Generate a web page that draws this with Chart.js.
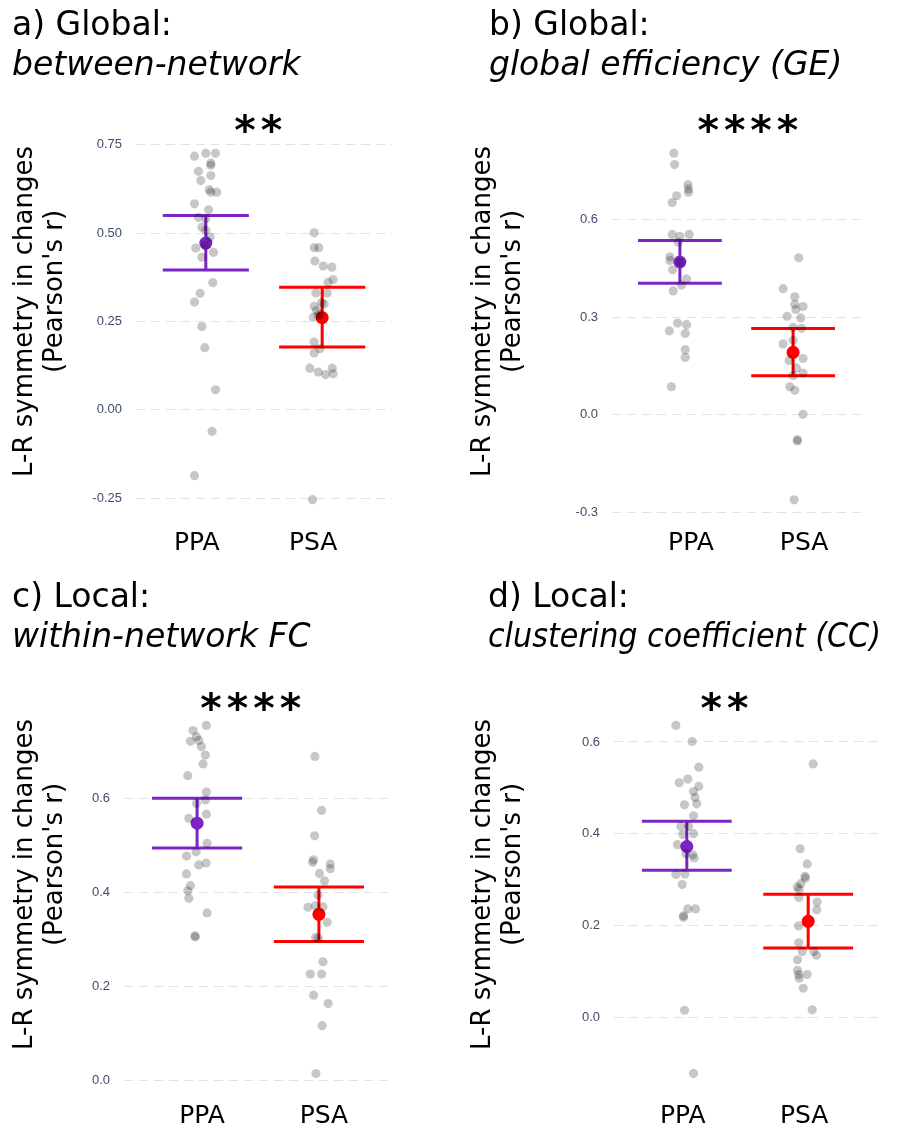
<!DOCTYPE html>
<html>
<head>
<meta charset="utf-8">
<script src="https://cdn.jsdelivr.net/npm/chart.js@4.4.1/dist/chart.umd.min.js"></script>
<style>
  html, body { margin: 0; padding: 0; background: #fff; }
  #wrap { position: relative; width: 922px; height: 1127px; }
  canvas { position: absolute; }
</style>
</head>
<body>
<div id="wrap">
  <canvas id="panelA" width="461" height="563" style="left:0;top:0"></canvas>
  <canvas id="panelB" width="461" height="563" style="left:461px;top:0"></canvas>
  <canvas id="panelC" width="461" height="564" style="left:0;top:563px"></canvas>
  <canvas id="panelD" width="461" height="564" style="left:461px;top:563px"></canvas>
</div>
<script>
const groups = ['PPA', 'PSA'];

// a) between-network
const aPpa = [0.718,0.726,0.726,0.698,0.692,0.675,0.663,0.649,0.623,0.616,0.616,0.583,0.566,0.545,0.541,0.517,0.508,0.489,0.458,0.465,0.446,0.432,0.360,0.330,0.305,0.236,0.176,0.057,-0.061,-0.186];
const aPpaJit = [-0.097,0,0.083,0.043,0.043,-0.063,0.043,-0.043,0.029,0.094,0.043,-0.097,0.023,-0.063,0,-0.034,0,0.037,-0.086,-0.006,0.066,-0.034,0.060,-0.049,-0.097,-0.034,-0.009,0.083,0.054,-0.097];
const aPsa = [0.501,0.459,0.459,0.421,0.407,0.404,0.369,0.361,0.331,0.331,0.303,0.293,0.281,0.272,0.262,0.267,0.300,0.192,0.173,0.161,0.118,0.107,0.100,0.118,0.102,-0.254];
const aPsaJit = [-0.069,-0.069,-0.029,-0.063,0.009,0.083,0.094,0.051,-0.054,0.043,-0.006,-0.069,-0.049,-0.020,-0.077,-0.034,0.017,-0.069,-0.020,-0.069,-0.106,-0.034,0.029,0.086,0.094,-0.083];
const aMean = [0.472, 0.261];
const aLo = [0.396, 0.178];
const aHi = [0.550, 0.347];
const aTicks = [-0.25, 0, 0.25, 0.5, 0.75];
const aTickLabels = ['-0.25', '0.00', '0.25', '0.50', '0.75'];

// b) global efficiency
const bPpa = [0.805,0.770,0.708,0.695,0.685,0.674,0.653,0.555,0.549,0.555,0.531,0.486,0.475,0.446,0.470,0.418,0.399,0.381,0.282,0.258,0.277,0.250,0.200,0.176,0.086];
const bPpaJit = [-0.053,-0.047,0.071,0.076,0.076,-0.029,-0.068,-0.068,0,0.082,-0.015,-0.088,-0.088,-0.065,0,0.059,0.015,-0.059,-0.021,-0.094,0.059,0.047,0.047,0.047,-0.076];
const bPsa = [0.483,0.388,0.363,0.340,0.333,0.324,0.303,0.298,0.269,0.266,0.218,0.229,0.167,0.173,0.144,0.128,0.121,0.086,0.075,0.001,-0.077,-0.081,-0.262];
const bPsaJit = [0.050,-0.088,0.015,0.015,0.088,0.024,-0.053,0.068,0,0.074,-0.088,0,-0.035,0.088,0.029,0.088,0,-0.029,0.015,0.088,0.038,0.038,0.009];
const bMean = [0.470, 0.192];
const bLo = [0.405, 0.120];
const bHi = [0.536, 0.265];
const bTicks = [-0.3, 0, 0.3, 0.6];
const bTickLabels = ['-0.3', '0.0', '0.3', '0.6'];

// c) within-network FC
const cPpa = [0.755,0.744,0.731,0.721,0.723,0.710,0.692,0.673,0.648,0.613,0.596,0.589,0.557,0.566,0.504,0.486,0.477,0.462,0.458,0.439,0.414,0.403,0.387,0.356,0.307,0.305];
const cPpaJit = [0.076,-0.033,-0.005,-0.055,0.014,0.035,0.068,0.049,-0.076,0.076,0.068,-0.005,-0.068,0.076,0.082,-0.008,-0.087,0.074,0.014,-0.087,-0.055,-0.076,-0.068,0.082,-0.019,-0.014];
const cPsa = [0.689,0.574,0.520,0.469,0.464,0.460,0.450,0.440,0.424,0.394,0.368,0.371,0.369,0.336,0.304,0.302,0.252,0.226,0.226,0.181,0.163,0.116,0.014];
const cPsaJit = [-0.033,0.022,-0.035,-0.044,-0.052,0.093,0.093,0.005,0.046,-0.008,-0.090,-0.030,0.033,0.068,-0.027,-0.005,0.033,-0.071,0.022,-0.044,0.076,0.027,-0.025];
const cMean = [0.547, 0.353];
const cLo = [0.494, 0.295];
const cHi = [0.600, 0.411];
const cTicks = [0, 0.2, 0.4, 0.6];
const cTickLabels = ['0.0', '0.2', '0.4', '0.6'];

// d) clustering coefficient
const dPpa = [0.636,0.601,0.545,0.519,0.511,0.503,0.492,0.479,0.465,0.463,0.439,0.416,0.416,0.400,0.398,0.376,0.356,0.347,0.354,0.311,0.312,0.289,0.236,0.236,0.221,0.218,0.015,-0.123];
const dPpaJit = [-0.090,0.044,0.099,0.008,-0.063,0.099,0.055,0.068,0.082,-0.019,0.055,-0.049,0.014,0.055,-0.033,-0.077,-0.008,0.060,0.049,-0.090,-0.016,-0.038,0.008,0.071,-0.027,-0.027,-0.019,0.055];
const dPsa = [0.552,0.367,0.334,0.307,0.303,0.291,0.284,0.279,0.261,0.251,0.234,0.199,0.162,0.143,0.143,0.135,0.125,0.102,0.093,0.085,0.093,0.063,0.016];
const dPsaJit = [0.041,-0.066,-0.008,-0.027,-0.022,-0.060,-0.090,-0.074,-0.077,0.074,0.071,-0.079,-0.077,-0.049,0.047,0.068,-0.088,-0.088,-0.079,-0.074,-0.008,-0.041,0.033];
const dMean = [0.372, 0.209];
const dLo = [0.320, 0.151];
const dHi = [0.427, 0.268];
const dTicks = [0, 0.2, 0.4, 0.6];
const dTickLabels = ['0.0', '0.2', '0.4', '0.6'];

const groupColors = ['#7c24c6', '#ff0000'];
const CAP = 0.37; // half width of the error bar caps (category units)

const toPoints = (vals, jit, x) => vals.map((v, i) => ({ x: x + jit[i], y: v }));

const errorBar = (x, lo, hi) => [
  { x: x - CAP, y: hi }, { x: x + CAP, y: hi }, { x: x, y: null },
  { x: x - CAP, y: lo }, { x: x + CAP, y: lo }, { x: x, y: null },
  { x: x, y: hi }, { x: x, y: lo }
];

// y axis title + significance stars
const panelText = {
  id: 'panelText',
  afterDraw(chart, args, opts) {
    const { ctx, chartArea } = chart;
    const mid = (chartArea.top + chartArea.bottom) / 2;
    ctx.save();
    ctx.fillStyle = '#000';
    ctx.textAlign = 'center';
    ctx.textBaseline = 'middle';
    ctx.font = '26px "DejaVu Sans"';
    const lines = ['L-R symmetry in changes', "(Pearson's r)"];
    const dy = [-15, -35];
    lines.forEach((t, i) => {
      ctx.save();
      ctx.translate(opts.yTitleX[i], mid + dy[i]);
      ctx.rotate(-Math.PI / 2);
      ctx.fillText(t, 0, 0);
      ctx.restore();
    });
    ctx.font = 'bold 41px "DejaVu Sans"';
    ctx.letterSpacing = '5px';
    ctx.textBaseline = 'alphabetic';
    const sx = chart.scales.x.getPixelForValue(opts.starX) + 2.5;
    ctx.fillText(opts.stars, sx, chartArea.top + opts.starDy);
    ctx.restore();
  }
};

function makePanel(id, p) {
  const canvas = document.getElementById(id);
  const W = canvas.width, H = canvas.height;
  new Chart(canvas, {
    type: 'scatter',
    data: {
      datasets: [
        { data: toPoints(p.ppa, p.ppaJit, 1), backgroundColor: 'rgba(0,0,0,0.22)', borderWidth: 0, pointRadius: 4.6, order: 0 },
        { data: toPoints(p.psa, p.psaJit, 2), backgroundColor: 'rgba(0,0,0,0.22)', borderWidth: 0, pointRadius: 4.6, order: 0 },
        { data: errorBar(1, p.lo[0], p.hi[0]), showLine: true, borderColor: groupColors[0], borderWidth: 3, pointRadius: 0, spanGaps: false, order: 2 },
        { data: errorBar(2, p.lo[1], p.hi[1]), showLine: true, borderColor: groupColors[1], borderWidth: 3, pointRadius: 0, spanGaps: false, order: 2 },
        { data: p.mean.map((m, i) => ({ x: i + 1, y: m })), backgroundColor: groupColors, borderWidth: 0, pointRadius: 6.5, order: 1 }
      ]
    },
    options: {
      responsive: false,
      animation: false,
      events: [],
      layout: { padding: { left: p.titleX, right: W - p.area.right, top: 0, bottom: 0 } },
      scales: {
        x: {
          type: 'linear', min: 0.4, max: 2.6,
          afterBuildTicks: s => { s.ticks = groups.map((g, i) => ({ value: i + 1 })); },
          afterFit: s => { s.height = H - p.area.bottom; },
          grid: { display: false },
          border: { display: false },
          ticks: {
            callback: (v) => groups[v - 1],
            font: { family: 'DejaVu Sans', size: 25 },
            color: '#000',
            padding: p.xPad,
            labelOffset: p.xShift,
            maxRotation: 0
          }
        },
        y: {
          min: p.yMin, max: p.yMax,
          afterBuildTicks: s => { s.ticks = p.ticks.map(v => ({ value: v })); },
          afterFit: s => { s.width = p.area.left - p.titleX; },
          grid: { color: '#e2e2e2', lineWidth: 1, drawTicks: false },
          border: { display: false, dash: [9, 6] },
          ticks: {
            callback: (v, i) => p.tickLabels[i],
            font: { family: 'Liberation Sans', size: 13 },
            color: '#3e4c6a',
            padding: 14
          }
        }
      },
      plugins: {
        legend: { display: false },
        tooltip: { enabled: false },
        title: {
          display: true, text: p.title, align: 'start', color: '#000',
          font: { family: 'DejaVu Sans', size: 33, weight: 'normal', lineHeight: 1.2 },
          padding: { top: p.titleTop, bottom: 0 }
        },
        subtitle: {
          display: true, text: p.subtitle, align: 'start', color: '#000',
          font: { family: 'DejaVu Sans', size: 33, style: 'italic', lineHeight: 1.2 },
          padding: { top: 0, bottom: p.area.top - p.titleTop - 79.2 }
        },
        panelText: { yTitleX: p.yTitleX, stars: p.stars, starX: p.starX, starDy: p.starDy }
      }
    },
    plugins: [panelText]
  });
}

makePanel('panelA', {
  ppa: aPpa, ppaJit: aPpaJit, psa: aPsa, psaJit: aPsaJit, mean: aMean, lo: aLo, hi: aHi,
  ticks: aTicks, tickLabels: aTickLabels, yMin: -0.303, yMax: 0.775,
  title: 'a) Global:', subtitle: 'between-network', titleX: 12, titleTop: 7,
  area: { left: 136, right: 392, top: 136, bottom: 517 },
  yTitleX: [25, 55], stars: '**', starX: 1.45, starDy: 8, xPad: 3, xShift: -9
});
makePanel('panelB', {
  ppa: bPpa, ppaJit: bPpaJit, psa: bPsa, psaJit: bPsaJit, mean: bMean, lo: bLo, hi: bHi,
  ticks: bTicks, tickLabels: bTickLabels, yMin: -0.315, yMax: 0.858,
  title: 'b) Global:', subtitle: 'global efficiency (GE)', titleX: 28, titleTop: 7,
  area: { left: 151, right: 400, top: 136, bottom: 517 },
  yTitleX: [22, 52], stars: '****', starX: 1.6, starDy: 8, xPad: 3, xShift: 11
});
makePanel('panelC', {
  ppa: cPpa, ppaJit: cPpaJit, psa: cPsa, psaJit: cPsaJit, mean: cMean, lo: cLo, hi: cHi,
  ticks: cTicks, tickLabels: cTickLabels, yMin: -0.023, yMax: 0.792,
  title: 'c) Local:', subtitle: 'within-network FC', titleX: 12, titleTop: 16,
  area: { left: 124, right: 392, top: 145, bottom: 528 },
  yTitleX: [25, 55], stars: '****', starX: 1.44, starDy: 14, xPad: 2, xShift: 5
});
makePanel('panelD', {
  ppa: dPpa, ppaJit: dPpaJit, psa: dPsa, psaJit: dPsaJit, mean: dMean, lo: dLo, hi: dHi,
  ticks: dTicks, tickLabels: dTickLabels, yMin: -0.161, yMax: 0.674,
  title: 'd) Local:', subtitle: 'clustering coefficient (CC)', titleX: 27, titleTop: 16,
  area: { left: 153, right: 420, top: 145, bottom: 528 },
  yTitleX: [22, 52], stars: '**', starX: 1.31, starDy: 14, xPad: 2, xShift: -4
});
</script>
</body>
</html>
